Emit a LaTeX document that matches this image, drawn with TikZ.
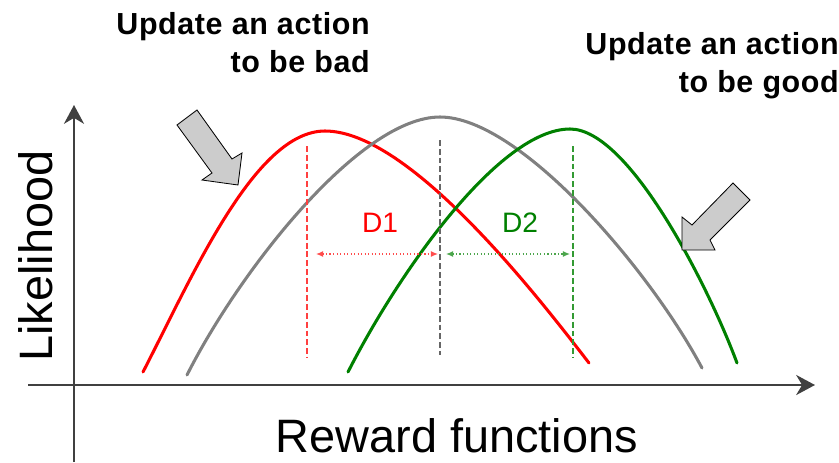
\documentclass[tikz,border=0pt]{standalone}
\usepackage{fontspec}
\setmainfont{Liberation Sans}
\newfontfamily\headfont[LetterSpace=2]{Liberation Sans}
\usetikzlibrary{arrows.meta}

\definecolor{axisgray}{HTML}{404040}
\definecolor{curvegray}{HTML}{808080}
\definecolor{curvegreen}{HTML}{008000}
\definecolor{pointerfill}{HTML}{CCCCCC}

\tikzset{
  axis/.style={draw=axisgray, line width=2.5pt,
    -{Stealth[length=16pt, width=17pt, inset=5pt]}},
  density/.style={line width=2.6pt, line cap=round},
  peakline/.style={line width=0.9pt, dash pattern=on 5pt off 2.5pt},
  gap/.style={line width=1pt, dotted,
    {Latex[length=6pt, width=5pt]}-{Latex[length=6pt, width=5pt]}},
  pointer/.style={draw=black, fill=pointerfill, line width=0.7pt},
  headline/.style={font=\headfont\bfseries\fontsize{26}{33}\selectfont,
    align=right, inner sep=0pt},
  axislabel/.style={font=\fontsize{40}{48}\selectfont, inner sep=0pt},
  gaplabel/.style={font=\fontsize{24}{29}\selectfont, inner sep=0pt},
}

\begin{document}
\begin{tikzpicture}[x=0.03cm, y=-0.03cm]
  \useasboundingbox (0,0) rectangle (839,462);

  % axes
  \draw[axis] (74,462) -- (74,105);
  \draw[axis] (28,385) -- (815,385);
  \node[axislabel, rotate=90, anchor=base] (ylabel) at (52,256) {Likelihood};
  \node[axislabel, anchor=base] (xlabel) at (457,452) {Reward functions};

  % the three curves
  \draw[density, red] (143,372) .. controls (193,275) and (255,131) .. (325,131)
    .. controls (410,131) and (539,298) .. (589,363);
  \draw[density, curvegray] (187,375) .. controls (240,270) and (360,117) .. (440,117)
    .. controls (520,117) and (650,270) .. (702,368);
  \draw[density, curvegreen] (348,372) .. controls (400,270) and (500,129) .. (570,129)
    .. controls (630,129) and (710,290) .. (737,363);

  % peak markers
  \coordinate (redtop) at (307,146);
  \coordinate (redfoot) at (307,358);
  \coordinate (graytop) at (440,140);
  \coordinate (grayfoot) at (440,355);
  \coordinate (greentop) at (573,146);
  \coordinate (greenfoot) at (573,358);
  \draw[peakline, red!75] (redtop) -- (redfoot);
  \draw[peakline, axisgray!80] (graytop) -- (grayfoot);
  \draw[peakline, curvegreen!80] (greentop) -- (greenfoot);

  % distances between the peaks
  \coordinate (d1left) at (316,254);
  \coordinate (d1right) at (438,254);
  \coordinate (d2left) at (446,254);
  \coordinate (d2right) at (570,254);
  \draw[gap, red!70] (d1left) -- (d1right);
  \draw[gap, curvegreen!70] (d2left) -- (d2right);
  \node[gaplabel, red, anchor=base] (d1) at (380,232) {D1};
  \node[gaplabel, curvegreen, anchor=base] (d2) at (520,232) {D2};

  % block arrows
  \draw[pointer] (177,125) -- (197,110) -- (232,159) -- (242,153) -- (238,185)
    -- (202,180) -- (212,173) -- cycle;
  \draw[pointer] (733,183) -- (750,200) -- (710,240) -- (715,250) -- (682,250)
    -- (682,217) -- (692,225) -- cycle;

  % captions
  \node[headline, anchor=north east] (badnote) at (370,12) {Update an action\\to be bad};
  \node[headline, anchor=north east] (goodnote) at (839,32) {Update an action\\to be good};
\end{tikzpicture}
\end{document}
